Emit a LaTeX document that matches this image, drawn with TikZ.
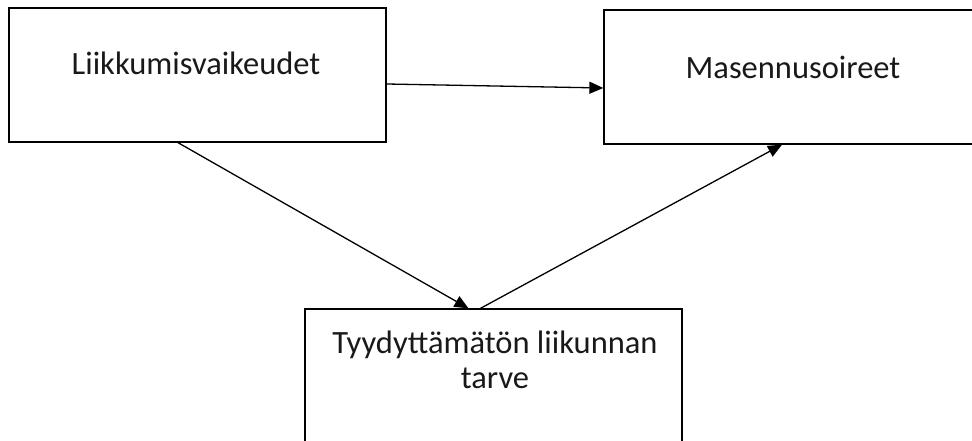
\documentclass[tikz,border=0pt]{standalone}
\usepackage{fontspec}
\setmainfont{Carlito}
\usetikzlibrary{arrows.meta}
\begin{document}
\begin{tikzpicture}[x=1pt,y=-1pt,
  box/.style={draw, line width=1.3pt, rectangle, inner sep=0pt},
  lbl/.style={font=\fontsize{32.5}{35}\selectfont, text=black!90, align=center},
  conn/.style={line width=1.3pt, -{Triangle[length=14pt,width=12pt]}}]
\useasboundingbox (0,0) rectangle (972,441);
\node[box, minimum width=377pt, minimum height=134pt] (L) at (197.5,75) {};
\node[box, minimum width=381pt, minimum height=134pt] (R) at (794.5,77) {};
\node[box, minimum width=377pt, minimum height=160pt] (B) at (493.5,389) {};
\node[lbl] (Lt) at (196,63) {Liikkumisvaikeudet};
\node[lbl] (Rt) at (793,67) {Masennusoireet};
\node[lbl] (Bt) at (495,360) {Tyydyttämätön liikunnan\\tarve};
\draw[conn] ([yshift=-9pt]L.east) -- ([yshift=-11pt]R.west);
\draw[conn] ([xshift=-19.5pt]L.south) -- ([xshift=-25pt]B.north);
\draw[conn] ([xshift=-13pt]B.north) -- ([xshift=-12.5pt]R.south);
\end{tikzpicture}
\end{document}
